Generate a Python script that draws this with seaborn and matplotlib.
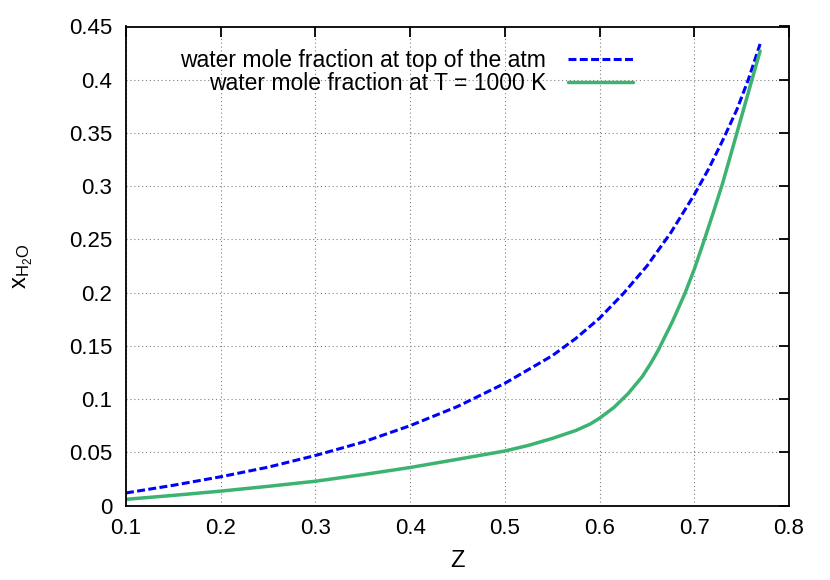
import matplotlib
matplotlib.use('Agg')
import matplotlib.pyplot as plt
import seaborn as sns

# values
z_top = [0.1, 0.15, 0.2, 0.25, 0.3, 0.35, 0.4, 0.45, 0.5, 0.55, 0.575, 0.6, 0.625, 0.65, 0.675,
         0.7, 0.715, 0.73, 0.745, 0.757, 0.7695]
x_top = [0.0118, 0.019, 0.027, 0.036, 0.047, 0.0595, 0.075, 0.093, 0.1148, 0.1407, 0.157, 0.176, 0.199, 0.225, 0.256,
         0.292, 0.316, 0.343, 0.372, 0.400, 0.4336]

z_hot = [0.1, 0.15, 0.2, 0.25, 0.3, 0.35, 0.4, 0.45, 0.5, 0.525, 0.55, 0.575, 0.59, 0.6, 0.615, 0.63, 0.645,
         0.654, 0.662, 0.677, 0.69, 0.7, 0.71, 0.72, 0.73, 0.745, 0.7615, 0.7695]
x_hot = [0.0058, 0.0095, 0.0135, 0.018, 0.0228, 0.029, 0.0357, 0.0434, 0.0512, 0.0565, 0.063, 0.0705, 0.0765, 0.082, 0.092, 0.105, 0.121,
         0.1335, 0.146, 0.173, 0.199, 0.222, 0.248, 0.275, 0.303, 0.350, 0.402, 0.427]

labels = ['water mole fraction at top of the atm', 'water mole fraction at T = 1000 K']
x_ticks = [0.1, 0.2, 0.3, 0.4, 0.5, 0.6, 0.7, 0.8]
y_ticks = [0, 0.05, 0.1, 0.15, 0.2, 0.25, 0.3, 0.35, 0.4, 0.45]

sns.set_style('white')
plt.rcParams['font.family'] = ['Liberation Sans', 'DejaVu Sans']
plt.rcParams['mathtext.fontset'] = 'custom'
plt.rcParams['mathtext.rm'] = 'Liberation Sans'
plt.rcParams['mathtext.it'] = 'Liberation Sans'
for k in ['text.color', 'axes.labelcolor', 'xtick.color', 'ytick.color', 'axes.edgecolor']:
    plt.rcParams[k] = 'black'

fig = plt.figure(figsize=(8.3, 5.8), dpi=100)
ax = fig.add_axes([126/830, 1-505.5/580, (789-126)/830, (505.5-26.5)/580])

sns.lineplot(x=z_top, y=x_top, ax=ax, color='#0000ff', lw=2.2, linestyle=(0, (2.6, 1.1)), label=labels[0])
sns.lineplot(x=z_hot, y=x_hot, ax=ax, color='#3cb371', lw=2.5, label=labels[1])

ax.set_xlim(0.1, 0.8)
ax.set_ylim(0, 0.45)
ax.set_xticks(x_ticks)
ax.set_yticks(y_ticks)
ax.set_xticklabels(['%g' % v for v in x_ticks])
ax.set_yticklabels(['%g' % v for v in y_ticks])
ax.grid(True, color='#808080', linestyle=(0, (1, 2.5)), lw=0.8)
ax.tick_params(direction='in', length=7.5, width=1.3, top=True, right=True, labelsize=16)
ax.tick_params(axis='x', pad=9)
ax.tick_params(axis='y', pad=10)
for s in ax.spines.values():
    s.set_linewidth(1.3)

ax.set_xlabel('Z', fontsize=17, labelpad=8)
ax.set_ylabel(r'$\mathrm{x_{H_2O}}$', fontsize=17, labelpad=24)

leg = ax.legend(loc='upper right', bbox_to_anchor=(633/830, 1-49/580), bbox_transform=fig.transFigure,
                markerfirst=False, frameon=False, fontsize=16.5, handlelength=2.85, handletextpad=0.95,
                labelspacing=0.0, borderpad=0, borderaxespad=0)

fig.savefig('out.png', dpi=100)
